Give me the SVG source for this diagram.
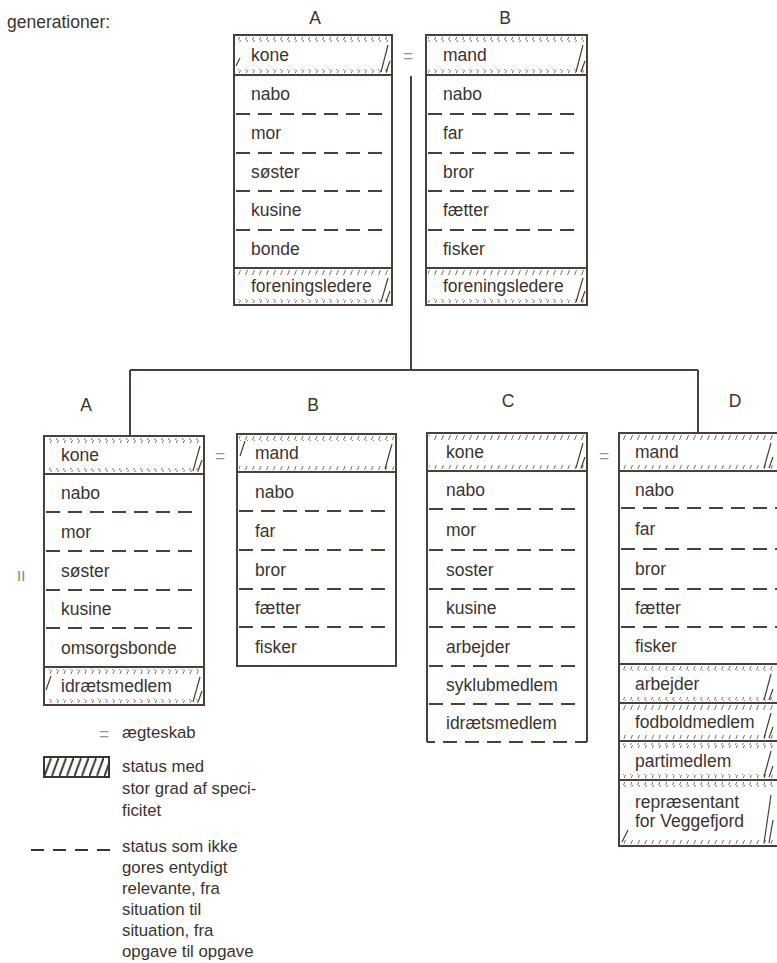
<svg xmlns="http://www.w3.org/2000/svg" width="777" height="963" viewBox="0 0 777 963">
<style>
text{font-family:"Liberation Sans",Arial,sans-serif;font-size:17.5px;fill:#3b342d}
.lg{font-size:16.8px}
.c{text-anchor:middle}
.eq{fill:#9a948c}
.box{fill:none;stroke:#4a4036;stroke-width:2}
.sol{stroke:#4a4036;stroke-width:2;fill:none}
.dash{stroke:#4a4036;stroke-width:2;stroke-dasharray:14 8;fill:none}
.tk{fill:url(#tk);stroke:none}
.sl{stroke:#4a4036;stroke-width:1.2;fill:none}
.con{stroke:#4a4036;stroke-width:2;fill:none}
</style>
<defs>
<pattern id="tk" width="7" height="5" patternUnits="userSpaceOnUse"><path d="M0.5,5 L2.5,0" stroke="#6a6056" stroke-width="0.9"/></pattern>
<pattern id="lh" x="44" y="757" width="7.5" height="20" patternUnits="userSpaceOnUse"><path d="M0,20 L7.5,0" stroke="#3b342d" stroke-width="2"/></pattern>
</defs>
<rect width="777" height="963" fill="#ffffff"/>

<text x="7" y="28">generationer:</text>
<text x="17" y="581" style="font-size:15px;fill:#8a847c">II</text>

<g id="labels">
<text class="c" x="315" y="24">A</text>
<text class="c" x="505" y="24">B</text>
<text class="c" x="86" y="411">A</text>
<text class="c" x="313" y="411">B</text>
<text class="c" x="508" y="407">C</text>
<text class="c" x="735" y="407">D</text>
<text class="c eq" x="408" y="62">=</text>
<text class="c eq" x="220" y="462">=</text>
<text class="c eq" x="604" y="462">=</text>
</g>

<g id="connectors">
<path class="con" d="M411,76 V370 M130,370 H698 M130,370 V436 M698,370 V433"/>
</g>

<g id="top-A">
<rect class="box" x="234" y="35" width="158" height="270"/>
<rect class="tk" x="236" y="37" width="154" height="5"/><rect class="tk" x="236" y="69" width="154" height="4"/>
<path class="sl" d="M381,72 L388,45 M386,72 L390,61 M236,66 L240,58"/>
<rect class="tk" x="236" y="270" width="154" height="5"/><rect class="tk" x="236" y="299" width="154" height="4"/>
<path class="sl" d="M381,302 L388,278 M386,302 L390,291"/>
<path class="sol" d="M234,75 H392 M234,268 H392"/>
<path class="dash" d="M236,114 H384 M236,153 H384 M236,191 H384 M236,230 H384"/>
<text x="251" y="61">kone</text>
<text x="251" y="100">nabo</text>
<text x="251" y="139">mor</text>
<text x="251" y="178">søster</text>
<text x="251" y="216">kusine</text>
<text x="251" y="255">bonde</text>
<text x="251" y="292">foreningsledere</text>
</g>

<g id="top-B">
<rect class="box" x="426" y="35" width="161" height="270"/>
<rect class="tk" x="428" y="37" width="157" height="5"/><rect class="tk" x="428" y="69" width="157" height="4"/>
<path class="sl" d="M576,72 L583,45 M581,72 L585,61"/>
<rect class="tk" x="428" y="270" width="157" height="5"/><rect class="tk" x="428" y="299" width="157" height="4"/>
<path class="sl" d="M576,302 L583,278 M581,302 L585,291"/>
<path class="sol" d="M426,75 H587 M426,268 H587"/>
<path class="dash" d="M428,114 H580 M428,153 H580 M428,191 H580 M428,230 H580"/>
<text x="443" y="61">mand</text>
<text x="443" y="100">nabo</text>
<text x="443" y="139">far</text>
<text x="443" y="178">bror</text>
<text x="443" y="216">fætter</text>
<text x="443" y="255">fisker</text>
<text x="443" y="292">foreningsledere</text>
</g>

<g id="II-A">
<rect class="box" x="44" y="436" width="160" height="269"/>
<rect class="tk" x="46" y="438" width="156" height="5"/><rect class="tk" x="46" y="468" width="156" height="4"/>
<path class="sl" d="M193,471 L200,446 M198,471 L202,460"/>
<rect class="tk" x="46" y="669" width="156" height="5"/><rect class="tk" x="46" y="699" width="156" height="4"/>
<path class="sl" d="M46,690 L51,676 M193,702 L200,677 M198,702 L202,691"/>
<path class="sol" d="M44,474 H204 M44,667 H204"/>
<path class="dash" d="M46,512 H196 M46,551 H196 M46,590 H196 M46,628 H196"/>
<text x="61" y="461">kone</text>
<text x="61" y="499">nabo</text>
<text x="61" y="538">mor</text>
<text x="61" y="577">søster</text>
<text x="61" y="615">kusine</text>
<text x="61" y="654">omsorgsbonde</text>
<text x="61" y="692">idrætsmedlem</text>
</g>

<g id="II-B">
<rect class="box" x="237" y="434" width="159" height="232"/>
<rect class="tk" x="239" y="436" width="155" height="5"/><rect class="tk" x="239" y="466" width="155" height="4"/>
<path class="sl" d="M240,456 L245,441 M385,469 L392,444"/>
<path class="sol" d="M237,472 H396"/>
<path class="dash" d="M239,511 H390 M239,550 H390 M239,589 H390 M239,627 H390"/>
<text x="255" y="459">mand</text>
<text x="255" y="498">nabo</text>
<text x="255" y="537">far</text>
<text x="255" y="576">bror</text>
<text x="255" y="614">fætter</text>
<text x="255" y="653">fisker</text>
</g>

<g id="II-C">
<path class="sol" d="M427,742 V433 H587 V742"/>
<rect class="tk" x="429" y="435" width="156" height="5"/><rect class="tk" x="429" y="465" width="156" height="4"/>
<path class="sl" d="M576,468 L583,443 M581,468 L585,457"/>
<path class="sol" d="M427,471 H587"/>
<path class="dash" d="M429,509 H580 M429,550 H580 M429,589 H580 M429,627 H580 M429,666 H580 M429,704 H580"/>
<path class="dash" d="M427,742 H587" style="stroke-dasharray:8 8 14 8 14 8 14 8 14 8 14 8 14 8 14 8 8"/>
<text x="446" y="458">kone</text>
<text x="446" y="496">nabo</text>
<text x="446" y="536">mor</text>
<text x="446" y="576">soster</text>
<text x="446" y="614">kusine</text>
<text x="446" y="653">arbejder</text>
<text x="446" y="691">syklubmedlem</text>
<text x="446" y="729">idrætsmedlem</text>
</g>

<g id="II-D">
<rect class="box" x="619" y="433" width="171" height="413"/>
<rect class="tk" x="621" y="435" width="156" height="5"/><rect class="tk" x="621" y="465" width="156" height="4"/>
<path class="sl" d="M764,468 L771,443 M769,468 L773,457"/>
<rect class="tk" x="621" y="666" width="156" height="5"/><rect class="tk" x="621" y="697" width="156" height="4"/>
<path class="sl" d="M764,700 L771,674 M769,700 L773,689"/>
<rect class="tk" x="621" y="705" width="156" height="5"/><rect class="tk" x="621" y="735" width="156" height="4"/>
<path class="sl" d="M764,738 L771,713 M769,738 L773,727"/>
<rect class="tk" x="621" y="743" width="156" height="5"/><rect class="tk" x="621" y="774" width="156" height="4"/>
<path class="sl" d="M764,777 L771,751 M769,777 L773,766"/>
<rect class="tk" x="621" y="782" width="156" height="5"/><rect class="tk" x="621" y="840" width="156" height="4"/>
<path class="sl" d="M764,843 L771,795 M769,843 L773,820 M622,842 L628,830"/>
<path class="sol" d="M619,471 H777 M619,664 H777 M619,703 H777 M619,741 H777 M619,780 H777"/>
<path class="dash" d="M621,508 H777 M621,549 H777 M621,589 H777 M621,627 H777"/>
<text x="635" y="458">mand</text>
<text x="635" y="496">nabo</text>
<text x="635" y="535">far</text>
<text x="635" y="575">bror</text>
<text x="635" y="614">fætter</text>
<text x="635" y="652">fisker</text>
<text x="635" y="690">arbejder</text>
<text x="635" y="728">fodboldmedlem</text>
<text x="635" y="767">partimedlem</text>
<text x="635" y="808">repræsentant</text>
<text x="635" y="827">for Veggefjord</text>
</g>

<g id="legend">
<text class="c eq" x="104" y="740">=</text>
<text class="lg" x="122" y="738">ægteskab</text>
<rect x="44" y="757" width="65" height="20" fill="url(#lh)" stroke="#3b342d" stroke-width="2"/>
<text class="lg" x="122" y="772">status med</text>
<text class="lg" x="122" y="794">stor grad af speci-</text>
<text class="lg" x="122" y="816">ficitet</text>
<path d="M31,850 H110" stroke="#3b342d" stroke-width="2" stroke-dasharray="13 9"/>
<text class="lg" x="122" y="852">status som ikke</text>
<text class="lg" x="122" y="873">gores entydigt</text>
<text class="lg" x="122" y="894">relevante, fra</text>
<text class="lg" x="122" y="915">situation til</text>
<text class="lg" x="122" y="936">situation, fra</text>
<text class="lg" x="122" y="957">opgave til opgave</text>
</g>
</svg>
